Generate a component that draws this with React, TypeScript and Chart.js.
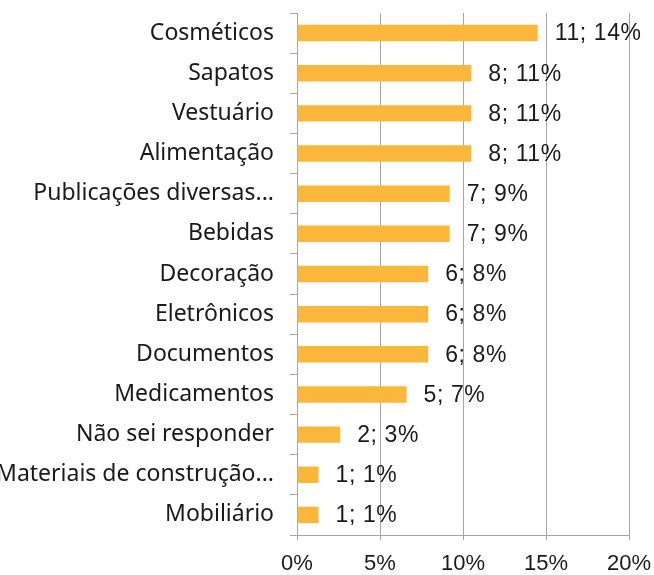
import React, { useEffect, useRef } from "react";
import { Chart, registerables } from "chart.js";

Chart.register(...registerables);

const categories = [
  "Cosméticos",
  "Sapatos",
  "Vestuário",
  "Alimentação",
  "Publicações diversas...",
  "Bebidas",
  "Decoração",
  "Eletrônicos",
  "Documentos",
  "Medicamentos",
  "Não sei responder",
  "Materiais de construção...",
  "Mobiliário",
];
const counts = [11, 8, 8, 8, 7, 7, 6, 6, 6, 5, 2, 1, 1];
const percents = [14.5, 10.5, 10.5, 10.5, 9.2, 9.2, 7.9, 7.9, 7.9, 6.6, 2.6, 1.3, 1.3];
const percentLabels = [14, 11, 11, 11, 9, 9, 8, 8, 8, 7, 3, 1, 1];
const xTicks = [0, 5, 10, 15, 20];

const GRID = "#a6a6a6";
const NUM_FONT = "'Liberation Sans', Arial, sans-serif";
const CAT_FONT = "'Noto Sans', sans-serif";

const dataLabelPlugin = {
  id: "dataLabels",
  afterDatasetsDraw(chart: any) {
    const meta = chart.getDatasetMeta(0);
    const ctx = chart.ctx;
    ctx.save();
    ctx.font = `23px ${NUM_FONT}`;
    try {
      (ctx as any).letterSpacing = "0.6px";
    } catch (e) {}
    ctx.fillStyle = "#1a1a1a";
    ctx.textAlign = "left";
    ctx.textBaseline = "middle";
    meta.data.forEach((bar: any, i: number) => {
      ctx.fillText(`${counts[i]}; ${percentLabels[i]}%`, bar.x + 17, bar.y + 1);
    });
    ctx.restore();
  },
};

export default function App() {
  const ref = useRef<HTMLCanvasElement | null>(null);
  useEffect(() => {
    if (!ref.current) return;
    const chart = new Chart(ref.current, {
      type: "bar",
      data: {
        labels: categories,
        datasets: [
          {
            data: percents,
            backgroundColor: "#FBB73B",
            borderWidth: 0,
            barPercentage: 0.41,
            categoryPercentage: 1,
          },
        ],
      },
      options: {
        indexAxis: "y",
        animation: false,
        responsive: false,
        maintainAspectRatio: false,
        layout: { padding: { top: 13, right: 25, left: 0, bottom: 0 } },
        plugins: {
          legend: { display: false },
          tooltip: { enabled: false },
        },
        scales: {
          x: {
            type: "linear",
            min: 0,
            max: 20,
            afterBuildTicks: (scale: any) => {
              scale.ticks = xTicks.map((v) => ({ value: v }));
            },
            afterFit: (scale: any) => {
              scale.height = 40;
              scale.paddingLeft = 0;
              scale.paddingRight = 0;
            },
            ticks: {
              callback: (v: any) => `${v}%`,
              font: { family: NUM_FONT, size: 22 },
              color: "#1a1a1a",
              padding: 11,
              maxRotation: 0,
            },
            grid: {
              color: GRID,
              lineWidth: 1,
              tickLength: 5,
              drawOnChartArea: true,
            },
            border: { display: true, color: GRID, width: 1 },
          },
          y: {
            type: "category",
            offset: true,
            afterFit: (scale: any) => {
              scale.width = 297;
              scale.paddingTop = 0;
              scale.paddingBottom = 0;
            },
            ticks: {
              font: { family: CAT_FONT, size: 23 },
              color: "#1a1a1a",
              padding: 16,
              autoSkip: false,
            },
            grid: {
              color: GRID,
              lineWidth: 1,
              tickLength: 7,
              drawOnChartArea: false,
              offset: true,
            },
            border: { display: true, color: GRID, width: 1 },
          },
        },
      },
      plugins: [dataLabelPlugin],
    });
    return () => chart.destroy();
  }, []);
  return (
    <div style={{ position: "fixed", left: 0, top: 0, width: 654, height: 575, background: "#fff" }}>
      <canvas ref={ref} width={654} height={575} style={{ width: 654, height: 575 }} />
    </div>
  );
}
